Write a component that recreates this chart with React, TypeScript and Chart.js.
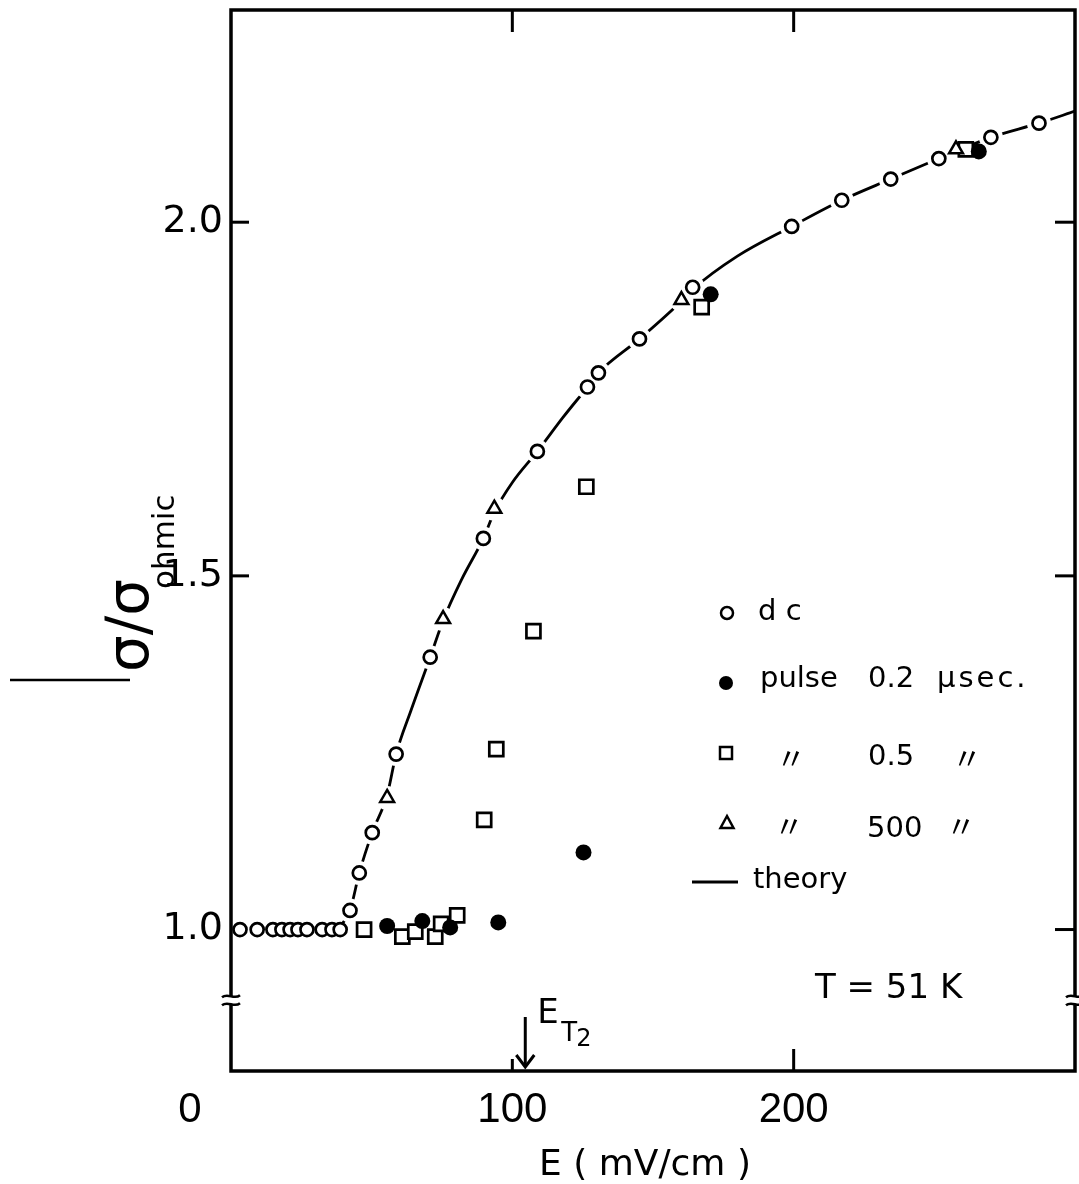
import React, { useEffect, useRef } from 'react';
import { Chart, registerables } from 'chart.js';

Chart.register(...registerables);

// ---- data (E in mV/cm, sigma / sigma_ohmic) ----
const dcE = [3.2, 9.3, 14.9, 18.1, 21.0, 23.8, 27.0, 32.4, 35.9, 38.8, 42.3, 45.6, 50.2, 58.7, 70.8, 89.7, 108.9, 126.7, 130.6, 145.2, 164.1, 199.3, 217.1, 234.5, 251.6, 270.1, 287.2];
const dcS = [1.0, 1.0, 1.0, 1.0, 1.0, 1.0, 1.0, 1.0, 1.0, 1.0, 1.027, 1.08, 1.137, 1.248, 1.385, 1.553, 1.676, 1.767, 1.787, 1.835, 1.908, 1.994, 2.031, 2.061, 2.09, 2.12, 2.14];

const pulse02E = [55.5, 68.0, 77.9, 95.0, 125.3, 170.5, 265.8];
const pulse02S = [1.005, 1.012, 1.003, 1.01, 1.109, 1.898, 2.1];

const pulse05E = [47.3, 60.9, 65.5, 72.6, 74.7, 80.4, 90.0, 94.3, 107.5, 126.3, 167.3, 261.2];
const pulse05S = [1.0, 0.99, 0.997, 0.99, 1.008, 1.02, 1.155, 1.255, 1.422, 1.626, 1.88, 2.103];

const pulse500E = [55.5, 75.4, 93.6, 160.1, 257.7];
const pulse500S = [1.186, 1.439, 1.595, 1.89, 2.103];

const theoryE = [38, 42.3, 45.6, 50.2, 55.5, 58.7, 64, 70.8, 75.4, 82, 89.7, 93.6, 100, 108.9, 118, 126.7, 130.6, 145.2, 160, 164.1, 180, 199.3, 217.1, 234.5, 251.6, 260, 270.1, 287.2, 300];
const theoryS = [1.0, 1.027, 1.08, 1.137, 1.19, 1.248, 1.31, 1.385, 1.437, 1.495, 1.553, 1.59, 1.632, 1.676, 1.724, 1.767, 1.787, 1.835, 1.888, 1.905, 1.952, 1.994, 2.031, 2.061, 2.09, 2.104, 2.12, 2.14, 2.157];

const xTickValues = [100, 200];
const yTickValues = [1.0, 1.5, 2.0];
const eT2 = 104.6;
const breakValue = 0.9;

const pts = (xs: number[], ys: number[]) => xs.map((x, i) => ({ x, y: ys[i] }));

const SANS = '"DejaVu Sans", "Liberation Sans", sans-serif';
const NUM = '"Liberation Sans", "DejaVu Sans", sans-serif';

const annotPlugin = {
  id: 'annot',
  afterDatasetsDraw(chart: any) {
    const { ctx, chartArea: ca, scales } = chart;
    const xs = scales.x;
    const ys = scales.y;
    ctx.save();
    ctx.strokeStyle = '#000';
    ctx.fillStyle = '#000';
    ctx.lineCap = 'butt';

    // frame
    ctx.lineWidth = 3.5;
    ctx.beginPath();
    ctx.moveTo(ca.left, ca.top);
    ctx.lineTo(ca.right, ca.top);
    ctx.lineTo(ca.right, ca.bottom);
    ctx.lineTo(ca.left, ca.bottom);
    ctx.closePath();
    ctx.stroke();

    // inward ticks
    ctx.lineWidth = 3;
    const tick = (x1: number, y1: number, x2: number, y2: number) => {
      ctx.beginPath();
      ctx.moveTo(x1, y1);
      ctx.lineTo(x2, y2);
      ctx.stroke();
    };
    [2.0, 1.5].forEach((v) => {
      const p = ys.getPixelForValue(v);
      tick(ca.left, p, ca.left + 18, p);
    });
    yTickValues.forEach((v) => {
      const p = ys.getPixelForValue(v);
      tick(ca.right, p, ca.right - 20, p);
    });
    xTickValues.forEach((v) => {
      const p = xs.getPixelForValue(v);
      tick(p, ca.top, p, ca.top + 22);
    });
    tick(xs.getPixelForValue(100), ca.bottom, xs.getPixelForValue(100), ca.bottom - 12);
    tick(xs.getPixelForValue(200), ca.bottom, xs.getPixelForValue(200), ca.bottom - 22);

    // axis breaks
    const yb = ys.getPixelForValue(breakValue);
    [ca.left, ca.right].forEach((xa) => {
      ctx.fillStyle = '#fff';
      ctx.fillRect(xa - 3, yb - 4, 6, 8);
      ctx.strokeStyle = '#000';
      ctx.lineWidth = 2.5;
      [-4, 4].forEach((d) => {
        ctx.beginPath();
        ctx.moveTo(xa - 9, yb + d + 1);
        ctx.bezierCurveTo(xa - 3, yb + d - 4, xa + 3, yb + d + 4, xa + 9, yb + d - 1);
        ctx.stroke();
      });
    });
    ctx.fillStyle = '#000';

    // "0" label at the origin corner
    ctx.font = `42px ${NUM}`;
    ctx.textAlign = 'center';
    ctx.textBaseline = 'middle';
    ctx.fillText('0', 190, ca.bottom + 14 + 25);

    // x-axis title
    ctx.font = `36px ${SANS}`;
    ctx.textBaseline = 'alphabetic';
    ctx.fillText('E ( mV/cm )', 645, 1175);

    // y-axis title (rotated) with subscript
    ctx.save();
    ctx.translate(148, 672);
    ctx.rotate(-Math.PI / 2);
    ctx.textAlign = 'left';
    ctx.font = `58px ${SANS}`;
    ctx.fillText('σ/σ', 0, 0);
    const w = ctx.measureText('σ/σ').width;
    ctx.font = `31px ${SANS}`;
    ctx.fillText('ohmic', w - 10, 26);
    ctx.restore();

    // stray rule left of title
    ctx.lineWidth = 2.5;
    tick(10, 680, 130, 680);

    // E_T2 arrow
    const xa = xs.getPixelForValue(eT2);
    ctx.lineWidth = 3;
    tick(xa, 1017, xa, 1066);
    ctx.beginPath();
    ctx.moveTo(xa - 9, 1055);
    ctx.lineTo(xa, 1067);
    ctx.lineTo(xa + 9, 1055);
    ctx.stroke();
    ctx.textAlign = 'left';
    ctx.textBaseline = 'alphabetic';
    ctx.font = `34px ${SANS}`;
    ctx.fillText('E', xa + 12, 1023);
    ctx.font = `26px ${SANS}`;
    ctx.fillText('T', xa + 36, 1041);
    ctx.font = `24px ${SANS}`;
    ctx.fillText('2', xa + 51, 1046);

    // temperature
    ctx.font = `34px ${SANS}`;
    ctx.fillText('T = 51 K', 815, 998);

    // legend
    const lw = 2.5;
    ctx.lineWidth = lw;
    ctx.beginPath();
    ctx.arc(727, 613, 6, 0, Math.PI * 2);
    ctx.fillStyle = '#fff';
    ctx.fill();
    ctx.stroke();
    ctx.fillStyle = '#000';
    ctx.beginPath();
    ctx.arc(726, 683, 7, 0, Math.PI * 2);
    ctx.fill();
    ctx.strokeRect(720, 747, 12, 12);
    ctx.beginPath();
    ctx.moveTo(727, 816);
    ctx.lineTo(733.5, 828);
    ctx.lineTo(720.5, 828);
    ctx.closePath();
    ctx.stroke();
    ctx.lineWidth = 2.8;
    tick(692, 882, 738, 882);

    ctx.font = `29px ${SANS}`;
    ctx.fillText('d c', 758, 620);
    ctx.fillText('pulse', 760, 687);
    ctx.fillText('0.2', 868, 687);
    (ctx as any).letterSpacing = '3px';
    ctx.fillText('μsec.', 937, 687);
    (ctx as any).letterSpacing = '0px';
    ctx.fillText('0.5', 868, 765);
    ctx.fillText('500', 867, 837);
    ctx.fillText('theory', 753, 888);
    ctx.font = `30px "Noto Sans CJK JP", ${SANS}`;
    ctx.textBaseline = 'middle';
    ctx.fillText('〃', 776, 758);
    ctx.fillText('〃', 952, 758);
    ctx.fillText('〃', 774, 826);
    ctx.fillText('〃', 946, 826);

    ctx.restore();
  },
};

export default function App() {
  const ref = useRef<HTMLCanvasElement | null>(null);
  useEffect(() => {
    document.body.style.overflow = 'hidden';
    const canvas = ref.current;
    if (!canvas) return;
    const haloData = [
      ...pts(dcE, dcS).filter((p) => p.x > 40),
      ...pts(pulse500E, pulse500S),
    ];
    const chart = new Chart(canvas, {
      type: 'scatter',
      data: {
        datasets: [
          {
            type: 'line',
            label: 'theory',
            data: pts(theoryE, theoryS),
            borderColor: '#000',
            borderWidth: 2.8,
            pointRadius: 0,
            fill: false,
            cubicInterpolationMode: 'monotone',
            order: 6,
          } as any,
          {
            label: 'halo',
            data: haloData,
            pointRadius: 12,
            pointBackgroundColor: '#fff',
            pointBorderWidth: 0,
            pointBorderColor: '#fff',
            order: 5,
          },
          {
            label: 'pulse 0.5 μsec',
            data: pts(pulse05E, pulse05S),
            pointStyle: 'rect',
            pointRadius: 9.9,
            pointBorderWidth: 2.7,
            pointBorderColor: '#000',
            pointBackgroundColor: '#fff',
            order: 4,
          },
          {
            label: 'pulse 500 μsec',
            data: pts(pulse500E, pulse500S),
            pointStyle: 'triangle',
            pointRadius: 8,
            pointBorderWidth: 2.5,
            pointBorderColor: '#000',
            pointBackgroundColor: '#fff',
            order: 3,
          },
          {
            label: 'pulse 0.2 μsec',
            data: pts(pulse02E, pulse02S),
            pointStyle: 'circle',
            pointRadius: 8,
            pointBorderWidth: 0,
            pointBackgroundColor: '#000',
            pointBorderColor: '#000',
            order: 2,
          },
          {
            label: 'dc',
            data: pts(dcE, dcS),
            pointStyle: 'circle',
            pointRadius: 6.5,
            pointBorderWidth: 2.7,
            pointBorderColor: '#000',
            pointBackgroundColor: '#fff',
            order: 1,
          },
        ],
      },
      options: {
        responsive: false,
        animation: false,
        devicePixelRatio: 1,
        layout: { autoPadding: false, padding: { top: 10, right: 4, left: 0, bottom: 0 } },
        plugins: { legend: { display: false }, tooltip: { enabled: false } },
        scales: {
          x: {
            type: 'linear',
            min: 0,
            max: 300,
            afterBuildTicks: (s: any) => {
              s.ticks = xTickValues.map((v) => ({ value: v }));
            },
            afterFit: (s: any) => {
              s.height = 113;
              s.paddingLeft = 0;
              s.paddingRight = 0;
            },
            ticks: {
              color: '#000',
              font: { family: NUM, size: 42 },
              padding: 14,
              maxRotation: 0,
              callback: (v: any) => String(v),
            },
            grid: { display: false, drawTicks: false },
            border: { display: false },
          },
          y: {
            type: 'linear',
            min: 0.8,
            max: 2.3,
            afterBuildTicks: (s: any) => {
              s.ticks = yTickValues.map((v) => ({ value: v }));
            },
            afterFit: (s: any) => {
              s.width = 231;
              s.paddingTop = 0;
              s.paddingBottom = 0;
            },
            ticks: {
              color: '#000',
              font: { family: SANS, size: 38 },
              padding: 8,
              callback: (v: any) => Number(v).toFixed(1),
            },
            grid: { display: false, drawTicks: false },
            border: { display: false },
          },
        },
      },
      plugins: [annotPlugin],
    });
    return () => chart.destroy();
  }, []);
  return (
    <canvas
      ref={ref}
      width={1079}
      height={1184}
      style={{ position: 'absolute', left: 0, top: 0, display: 'block', background: '#fff' }}
    />
  );
}
